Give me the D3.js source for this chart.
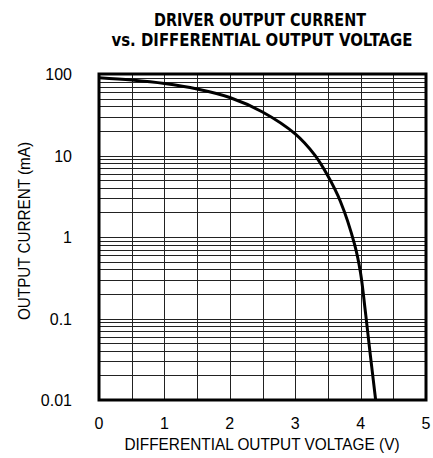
<!DOCTYPE html>
<html>
<head>
<meta charset="utf-8">
<script src="https://cdn.jsdelivr.net/npm/d3@7"></script>
<style>
  body { margin: 0; background: #fff; }
  text { font-family: "Liberation Sans", Arial, sans-serif; fill: #000; }
  .title { font-family: "DejaVu Sans Condensed", "DejaVu Sans", sans-serif; font-weight: bold; }
</style>
</head>
<body>
<svg id="chart" width="433" height="458"></svg>
<script>
// curve
const voltage = [0, 0.5, 1.0, 1.5, 2.0, 2.5, 3.0, 3.3, 3.49, 3.69, 3.91, 4.0, 4.07, 4.14, 4.23];
const current = [90, 84.4, 76.5, 65.5, 51.5, 34.2, 18.4, 10.1, 5.8, 2.75, 0.80, 0.36, 0.127, 0.041, 0.01];

const xTicks = [0, 1, 2, 3, 4, 5];
const yTicks = [100, 10, 1, 0.1, 0.01];
const yTickLabels = ["100", "10", "1", "0.1", "0.01"];

const svg = d3.select("#chart");

const x = d3.scaleLinear().domain([0, 5]).range([99, 426]);
const y = d3.scaleLog().domain([0.01, 100]).range([400, 74]);

// title
svg.append("text")
    .attr("class", "title")
    .attr("x", 260).attr("y", 26)
    .attr("text-anchor", "middle")
    .style("font-size", "17px")
    .attr("textLength", 212).attr("lengthAdjust", "spacingAndGlyphs")
    .text("DRIVER OUTPUT CURRENT");
svg.append("text")
    .attr("class", "title")
    .attr("x", 262).attr("y", 45.5)
    .attr("text-anchor", "middle")
    .style("font-size", "17px")
    .attr("textLength", 301).attr("lengthAdjust", "spacingAndGlyphs")
    .text("vs. DIFFERENTIAL OUTPUT VOLTAGE");

// grid
const g = svg.append("g");
const vLines = d3.range(1, 10).map(i => i * 0.5);
g.selectAll("line.v").data(vLines).join("line")
    .attr("class", "v")
    .attr("x1", d => Math.round(x(d)) + 0.5).attr("x2", d => Math.round(x(d)) + 0.5)
    .attr("y1", y(100)).attr("y2", y(0.01))
    .attr("stroke", "#222").attr("stroke-width", 1);

const hLines = [];
[0.01, 0.1, 1, 10].forEach(dec => {
    for (let k = 1; k <= 9; k++) hLines.push(dec * k);
});
g.selectAll("line.h").data(hLines).join("line")
    .attr("class", "h")
    .attr("x1", x(0)).attr("x2", x(5))
    .attr("y1", d => Math.round(y(d)) + 0.5).attr("y2", d => Math.round(y(d)) + 0.5)
    .attr("stroke", "#222").attr("stroke-width", 1);

// curve
svg.append("clipPath").attr("id", "clip")
    .append("rect").attr("x", x(0)).attr("y", y(100))
    .attr("width", x(5) - x(0)).attr("height", y(0.01) - y(100));

const pts = voltage.map((v, i) => [v, current[i]]);
svg.append("path")
    .datum(pts)
    .attr("clip-path", "url(#clip)")
    .attr("fill", "none")
    .attr("stroke", "#000")
    .attr("stroke-width", 3)
    .attr("d", d3.line().x(d => x(d[0])).y(d => y(d[1])).curve(d3.curveCatmullRom.alpha(0.5)));

// frame
svg.append("rect")
    .attr("x", x(0)).attr("y", y(100))
    .attr("width", x(5) - x(0)).attr("height", y(0.01) - y(100))
    .attr("fill", "none").attr("stroke", "#000").attr("stroke-width", 3);

// tick labels
svg.selectAll("text.xt").data(xTicks).join("text")
    .attr("class", "xt")
    .attr("x", d => x(d)).attr("y", 429)
    .attr("text-anchor", "middle")
    .style("font-size", "16px")
    .text(d => d);

svg.selectAll("text.yt").data(yTicks).join("text")
    .attr("class", "yt")
    .attr("x", 72).attr("y", d => y(d) + 6)
    .attr("text-anchor", "end")
    .style("font-size", "16px")
    .text((d, i) => yTickLabels[i]);

// axis titles
svg.append("text")
    .attr("x", 262).attr("y", 450)
    .attr("text-anchor", "middle")
    .style("font-size", "16px")
    .attr("textLength", 275).attr("lengthAdjust", "spacingAndGlyphs")
    .text("DIFFERENTIAL OUTPUT VOLTAGE (V)");

svg.append("text")
    .attr("transform", "translate(30,231) rotate(-90)")
    .attr("text-anchor", "middle")
    .style("font-size", "16px")
    .attr("textLength", 178).attr("lengthAdjust", "spacingAndGlyphs")
    .text("OUTPUT CURRENT (mA)");
</script>
</body>
</html>
